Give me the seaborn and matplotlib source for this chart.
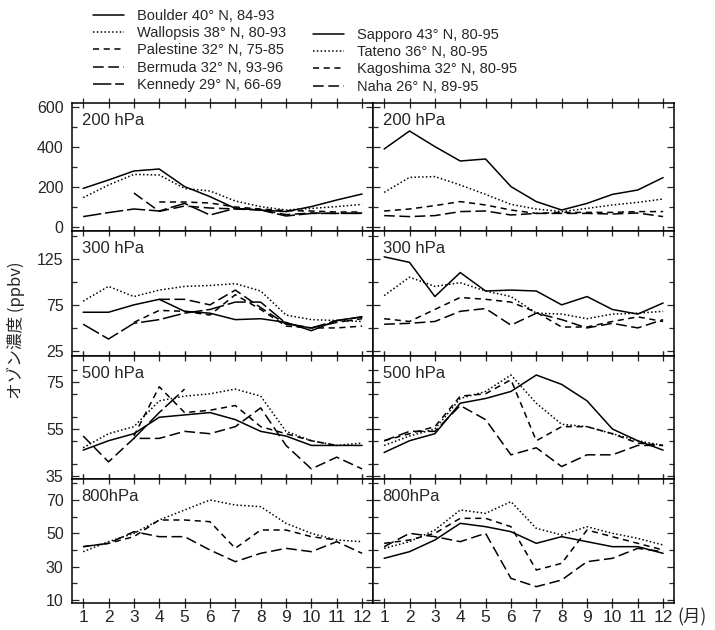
import numpy as np
import seaborn as sns
import matplotlib.pyplot as plt
from matplotlib.lines import Line2D
from matplotlib.ticker import FixedLocator, MultipleLocator

nan = np.nan
months = list(range(1, 13))

# 200 hPa
boulder_200 = [193, 235, 280, 290, 202, 152, 93, 85, 77, 102, 135, 165]
wallops_200 = [147, 210, 263, 260, 193, 180, 130, 102, 85, 93, 102, 113]
palestine_200 = [nan, nan, nan, 125, 125, 120, 100, 90, 82, 80, 75, 75]
bermuda_200 = [nan, nan, 170, 78, 105, 95, 90, 85, 62, 70, 68, 70]
kennedy_200 = [52, 72, 90, 80, 118, 60, 93, 85, 55, 68, 68, 68]
sapporo_200 = [390, 480, 402, 330, 340, 202, 127, 85, 118, 163, 185, 247]
tateno_200 = [173, 248, 252, 210, 163, 113, 90, 77, 93, 110, 123, 140]
kagoshima_200 = [80, 90, 107, 127, 110, 85, 68, 73, 73, 73, 77, 77]
naha_200 = [57, 52, 57, 77, 80, 60, 68, 68, 68, 65, 70, 52]

# 300 hPa
boulder_300 = [67, 67, 75, 81, 68, 66, 59, 60, 56, 47, 58, 62]
wallops_300 = [79, 95, 84, 91, 95, 96, 98, 90, 64, 59, 58, 57]
palestine_300 = [nan, nan, 56, 69, 68, 64, 86, 70, 52, 50, 50, 52]
bermuda_300 = [nan, nan, nan, 81, 81, 75, 91, 72, 54, 50, 56, 60]
kennedy_300 = [54, 38, 55, 59, 66, 70, 78, 78, 55, 50, 58, 62]
sapporo_300 = [127, 121, 84, 110, 90, 91, 90, 75, 84, 70, 65, 77]
tateno_300 = [85, 105, 95, 99, 90, 84, 66, 65, 60, 65, 66, 68]
kagoshima_300 = [60, 57, 70, 83, 81, 78, 67, 51, 51, 57, 62, 57]
naha_300 = [54, 55, 57, 68, 71, 53, 66, 59, 50, 55, 50, 59]

# 500 hPa
boulder_500 = [46, 50, 53, 60, 61, 62, 59, 54, 52, 48, 48, 48]
wallops_500 = [47, 53, 56, 67, 69, 70, 72, 69, 54, 50, 48, 49]
palestine_500 = [nan, nan, 52, 73, 62, 63, 65, 56, 53, 50, 48, nan]
bermuda_500 = [52, 41, 51, 51, 54, 53, 56, 64, 48, 38, 43, 38]
kennedy_500 = [nan, nan, 51, 62, 72, nan, nan, nan, nan, nan, nan, nan]
sapporo_500 = [45, 50, 53, 66, 68, 71, 78, 74, 67, 55, 50, 46]
tateno_500 = [48, 52, 55, 68, 71, 78, 66, 57, 56, 53, 50, 48]
kagoshima_500 = [50, 53, 56, 69, 70, 76, 50, 56, 56, 53, 49, 48]
naha_500 = [50, 54, 54, 65, 59, 44, 47, 39, 44, 44, 48, 48]

# 800 hPa
wallops_800 = [39, 45, 50, 58, 64, 70, 67, 66, 56, 50, 46, 45]
palestine_800 = [42, 44, 48, 58, 58, 57, 41, 52, 52, 48, 46, nan]
bermuda_800 = [42, 44, 51, 48, 48, 40, 33, 38, 41, 39, 45, 38]
sapporo_800 = [35, 39, 46, 56, 54, 51, 44, 48, 45, 42, 42, 38]
tateno_800 = [41, 45, 52, 64, 62, 69, 53, 49, 54, 50, 47, 43]
kagoshima_800 = [44, 46, 50, 59, 59, 54, 28, 32, 52, 48, 44, 40]
naha_800 = [42, 50, 48, 45, 50, 23, 18, 22, 33, 35, 41, 39]

levels = ['200 hPa', '300 hPa', '500 hPa', '800hPa']
left_labels = ['Boulder 40° N, 84-93', 'Wallopsis 38° N, 80-93', 'Palestine 32° N, 75-85',
               'Bermuda 32° N, 93-96', 'Kennedy 29° N, 66-69']
right_labels = ['Sapporo 43° N, 80-95', 'Tateno 36° N, 80-95', 'Kagoshima 32° N, 80-95',
                'Naha 26° N, 89-95']

# line styles per station
styles = {
    'Boulder': '-', 'Wallops': (0, (1, 1.5)), 'Palestine': (0, (4, 3)),
    'Bermuda': (0, (7, 3)), 'Kennedy': (0, (12, 2.5)),
    'Sapporo': '-', 'Tateno': (0, (1, 1.5)), 'Kagoshima': (0, (4, 3)), 'Naha': (0, (7, 3)),
}

left_data = [
    {'Boulder': boulder_200, 'Wallops': wallops_200, 'Palestine': palestine_200,
     'Bermuda': bermuda_200, 'Kennedy': kennedy_200},
    {'Boulder': boulder_300, 'Wallops': wallops_300, 'Palestine': palestine_300,
     'Bermuda': bermuda_300, 'Kennedy': kennedy_300},
    {'Boulder': boulder_500, 'Wallops': wallops_500, 'Palestine': palestine_500,
     'Bermuda': bermuda_500, 'Kennedy': kennedy_500},
    {'Wallops': wallops_800, 'Palestine': palestine_800, 'Bermuda': bermuda_800},
]
right_data = [
    {'Sapporo': sapporo_200, 'Tateno': tateno_200, 'Kagoshima': kagoshima_200, 'Naha': naha_200},
    {'Sapporo': sapporo_300, 'Tateno': tateno_300, 'Kagoshima': kagoshima_300, 'Naha': naha_300},
    {'Sapporo': sapporo_500, 'Tateno': tateno_500, 'Kagoshima': kagoshima_500, 'Naha': naha_500},
    {'Sapporo': sapporo_800, 'Tateno': tateno_800, 'Kagoshima': kagoshima_800, 'Naha': naha_800},
]

ylims = [(-20, 620), (19.6, 155), (33.7, 86.1), (8.2, 82.6)]
yticks = [[0, 200, 400, 600], [25, 75, 125], [35, 55, 75], [10, 30, 50, 70]]
yminor = [100, 25, 10, 10]

sns.set_style("ticks")
plt.rcParams['font.family'] = ['Liberation Sans', 'DejaVu Sans']

fig, axes = plt.subplots(4, 2, figsize=(7.15, 6.3), dpi=100, sharex=True, sharey='row',
                         gridspec_kw=dict(height_ratios=[128, 125, 123, 124], hspace=0, wspace=0))
fig.subplots_adjust(left=72 / 715, right=674 / 715, top=1 - 103 / 630, bottom=1 - 603 / 630)

for row in range(4):
    for col, data in enumerate([left_data[row], right_data[row]]):
        ax = axes[row, col]
        for name, vals in data.items():
            sns.lineplot(x=months, y=vals, ax=ax, color='black', lw=1.1,
                         linestyle=styles[name], estimator=None)
        ax.set_xlim(0.56, 12.43)
        ax.set_ylim(*ylims[row])
        ax.yaxis.set_major_locator(FixedLocator(yticks[row]))
        ax.yaxis.set_minor_locator(MultipleLocator(yminor[row]))
        ax.xaxis.set_major_locator(FixedLocator(months))
        ax.tick_params(axis='x', which='major', direction='inout', length=7, width=0.9,
                       top=True, bottom=True, labelsize=12.5, pad=1.5)
        ax.tick_params(axis='y', which='major', direction='in', length=5, width=0.9,
                       left=True, right=True, labelsize=11.5, pad=6)
        ax.tick_params(axis='y', which='minor', direction='in', length=3.5, width=0.9,
                       left=True, right=True)
        for s in ax.spines.values():
            s.set_linewidth(1.1)
            s.set_color('black')
        ax.set_xlabel('')
        ax.set_ylabel('')
        ax.annotate(levels[row], xy=(0, 1), xycoords='axes fraction',
                    xytext=(7, -7), textcoords='offset points',
                    ha='left', va='top', fontsize=12)

axes[3, 1].set_xticks(months)
axes[3, 1].set_xticklabels([str(m) for m in months])
axes[3, 0].set_xticklabels([str(m) for m in months])

fig.text(0.948, 1 - 617 / 630, '(月)', fontsize=12.5, va='center', ha='left',
         family=['Noto Sans CJK JP', 'DejaVu Sans'])
fig.text(0.022, 1 - 330 / 630, 'オゾン濃度 (ppbv)', rotation=90, fontsize=12,
         va='center', ha='center', family=['Noto Sans CJK JP', 'DejaVu Sans'])

# legend, two columns
left_handles = [Line2D([], [], color='black', lw=1.1, linestyle=styles[k])
                for k in ['Boulder', 'Wallops', 'Palestine', 'Bermuda', 'Kennedy']]
right_handles = [Line2D([], [], color='black', lw=1.1, linestyle=styles[k])
                 for k in ['Sapporo', 'Tateno', 'Kagoshima', 'Naha']]
leg_kw = dict(frameon=False, fontsize=10.5, handlelength=2.1, handletextpad=0.95,
              labelspacing=0.22, borderpad=0, borderaxespad=0, loc='upper left')
fig.legend(left_handles, left_labels, bbox_to_anchor=(93 / 715, 1 - 9 / 630), **leg_kw)
fig.legend(right_handles, right_labels, bbox_to_anchor=(313 / 715, 1 - 28 / 630), **leg_kw)

fig.savefig('out.png', dpi=100, facecolor='white')
